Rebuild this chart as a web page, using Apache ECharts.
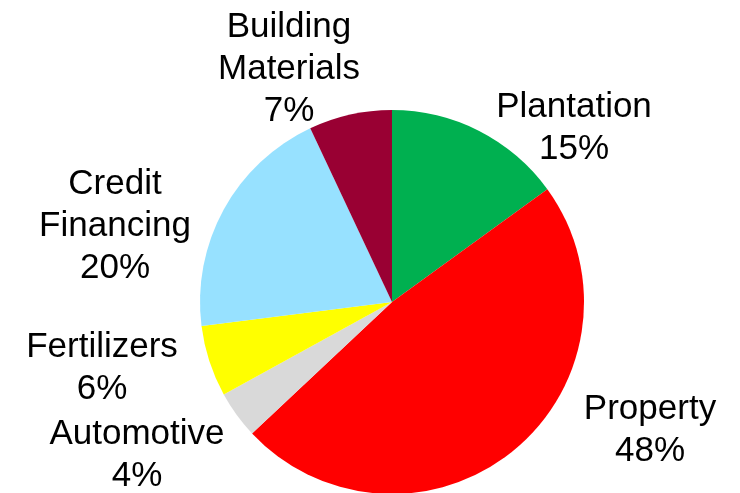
<!DOCTYPE html>
<html>
<head>
<meta charset="utf-8">
<script src="https://cdn.jsdelivr.net/npm/echarts@6/dist/echarts.min.js"></script>
<style>
  html, body { margin: 0; padding: 0; background: #ffffff; }
  #chart { width: 740px; height: 493px; }
</style>
</head>
<body>
<div id="chart"></div>
<script>
// Business segments, clockwise from twelve o'clock
var segments = ['Plantation', 'Property', 'Automotive', 'Fertilizers', 'Credit\nFinancing', 'Building\nMaterials'];
var shares = [15, 48, 4, 6, 20, 7];
var segmentColors = ['#00B050', '#FF0000', '#D9D9D9', '#FFFF00', '#97E1FF', '#990033'];

// Where each label block sits (centre of the text, in pixels)
var labelSpots = [
  [574, 128],
  [650, 430],
  [137, 455],
  [102, 368],
  [115, 226],
  [289, 69]
];

var chart = echarts.init(document.getElementById('chart'), null, { renderer: 'canvas' });

chart.setOption({
  backgroundColor: '#ffffff',
  animation: false,
  series: [{
    type: 'pie',
    center: [392, 302],
    radius: 192,
    startAngle: 90,
    clockwise: true,
    avoidLabelOverlap: false,
    itemStyle: { borderWidth: 0 },
    label: {
      show: true,
      position: 'outside',
      formatter: '{b}\n{d}%',
      fontFamily: '"Liberation Sans", Arial, sans-serif',
      fontSize: 35,
      lineHeight: 42,
      color: '#000000',
      align: 'center'
    },
    labelLine: { show: false },
    labelLayout: function (params) {
      var p = labelSpots[params.dataIndex];
      return { x: p[0], y: p[1], align: 'center', verticalAlign: 'middle' };
    },
    emphasis: { disabled: true },
    data: segments.map(function (name, i) {
      return { name: name, value: shares[i], itemStyle: { color: segmentColors[i] } };
    })
  }]
});
</script>
</body>
</html>
